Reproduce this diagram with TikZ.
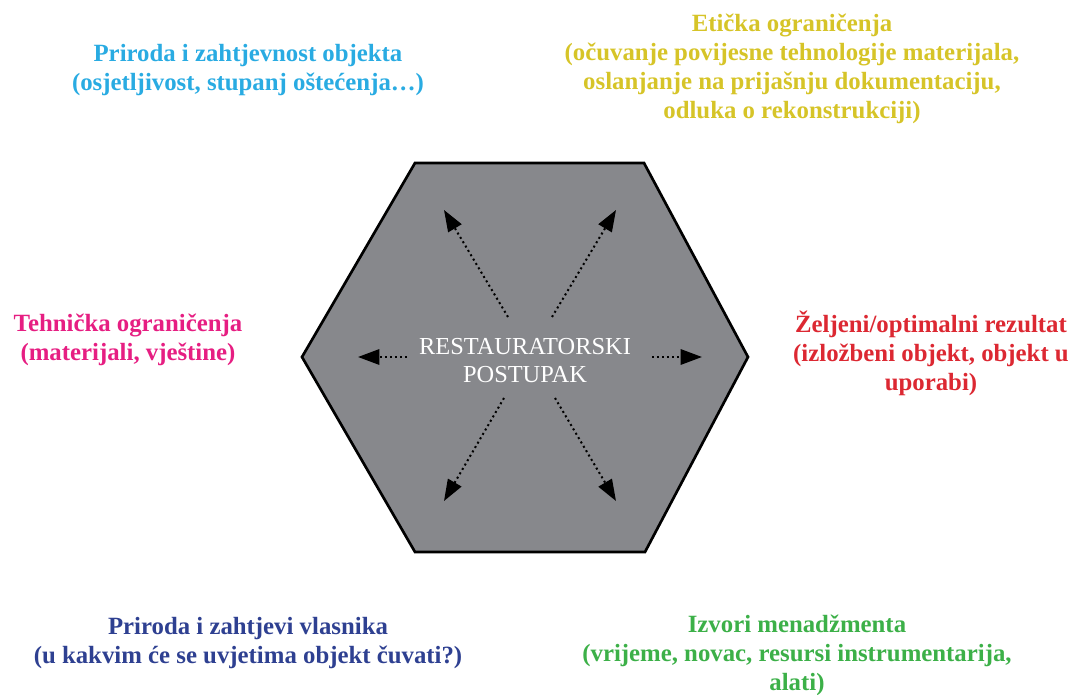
\documentclass[tikz,border=0pt]{standalone}
\usepackage{fontspec}
\setmainfont{Liberation Serif}
\usetikzlibrary{arrows.meta}
\definecolor{hexgray}{RGB}{135,136,140}
\definecolor{cblue}{RGB}{41,171,226}
\definecolor{cyellow}{RGB}{214,196,40}
\definecolor{cpink}{RGB}{230,30,130}
\definecolor{cred}{RGB}{220,40,50}
\definecolor{cdarkblue}{RGB}{46,64,145}
\definecolor{cgreen}{RGB}{60,176,72}
\begin{document}
\begin{tikzpicture}[x=0.75pt,y=-0.75pt,
  lbl/.style={font=\fontsize{18.6}{21.75}\selectfont\bfseries, align=center, inner sep=0pt},
  arr/.style={line width=1.5pt, dash pattern=on 1.5pt off 2.3pt, -{Triangle[length=16pt,width=11.5pt]}},
  hexface/.style={line width=2pt, fill=hexgray, line join=miter}]
\useasboundingbox (0,0) rectangle (1076,695);
% hexagon
\draw[hexface] (415,163) -- (644,163) -- (748,357) -- (645,552) -- (415,552) -- (302,357) -- cycle;
% centre text
\node[inner sep=0pt, text=white, align=center, font=\fontsize{18.3}{21.4}\selectfont] (c) at (525,360.5) {RESTAURATORSKI\\POSTUPAK};
% arrow coordinates
\coordinate (sL) at (407,357);  \coordinate (tL) at (358,357);
\coordinate (sR) at (652,357);  \coordinate (tR) at (702,357);
\coordinate (sUL) at (508,317); \coordinate (tUL) at (444,210);
\coordinate (sUR) at (552,317); \coordinate (tUR) at (616,210);
\coordinate (sLL) at (504,398); \coordinate (tLL) at (444,501);
\coordinate (sLR) at (555,398); \coordinate (tLR) at (616,501);
\draw[arr] (sL) -- (tL);
\draw[arr] (sR) -- (tR);
\draw[arr] (sUL) -- (tUL);
\draw[arr] (sUR) -- (tUR);
\draw[arr] (sLL) -- (tLL);
\draw[arr] (sLR) -- (tLR);
% labels
\node[lbl, text=cblue] (nat) at (248,69.8) {Priroda i zahtjevnost objekta\\(osjetljivost, stupanj oštećenja…)};
\node[lbl, text=cyellow] (eth) at (792,68.8) {Etička ograničenja\\(očuvanje povijesne tehnologije materijala,\\oslanjanje na prijašnju dokumentaciju,\\odluka o rekonstrukciji)};
\node[lbl, text=cpink] (tech) at (128,340.3) {Tehnička ograničenja\\(materijali, vještine)};
\node[lbl, text=cred] (res) at (931,353.4) {Željeni/optimalni rezultat\\(izložbeni objekt, objekt u\\uporabi)};
\node[lbl, text=cdarkblue] (own) at (248,643.3) {Priroda i zahtjevi vlasnika\\(u kakvim će se uvjetima objekt čuvati?)};
\node[lbl, text=cgreen] (man) at (797,655.5) {Izvori menadžmenta\\(vrijeme, novac, resursi instrumentarija,\\alati)};
\end{tikzpicture}
\end{document}
